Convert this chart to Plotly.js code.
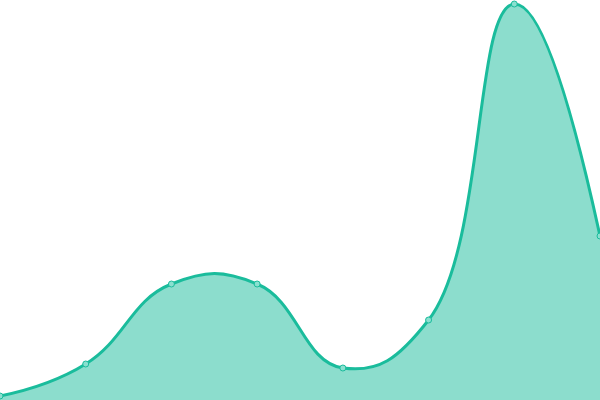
<!DOCTYPE html>
<html>
<head>
<meta charset="utf-8">
<script src="https://cdn.plot.ly/plotly-3.0.1.min.js"></script>
<style>
  html, body { margin: 0; padding: 0; background: #fff; }
  #chart { width: 600px; height: 400px; }
</style>
</head>
<body>
<div id="chart"></div>
<script>
// values, axis 0..100
const xs = [0, 1, 2, 3, 4, 5, 6, 7];
const values = [1, 9, 29, 29, 8, 20, 99, 41];

const data = [{
  x: xs,
  y: values,
  type: 'scatter',
  mode: 'lines+markers',
  fill: 'tozeroy',
  fillcolor: 'rgba(26,188,156,0.5)',
  line: { color: '#1abc9c', width: 3, shape: 'spline', smoothing: 1.3 },
  marker: { size: 6, color: '#8ae0d0', line: { color: '#1abc9c', width: 1 } },
  hoverinfo: 'none'
}];

const layout = {
  width: 600,
  height: 400,
  margin: { l: 0, r: 0, t: 0, b: 0, pad: 0 },
  paper_bgcolor: '#fff',
  plot_bgcolor: '#fff',
  showlegend: false,
  xaxis: { range: [0, 7], visible: false, fixedrange: true },
  yaxis: { range: [0, 100], visible: false, fixedrange: true }
};

Plotly.newPlot('chart', data, layout, { displayModeBar: false, staticPlot: true });
</script>
</body>
</html>
